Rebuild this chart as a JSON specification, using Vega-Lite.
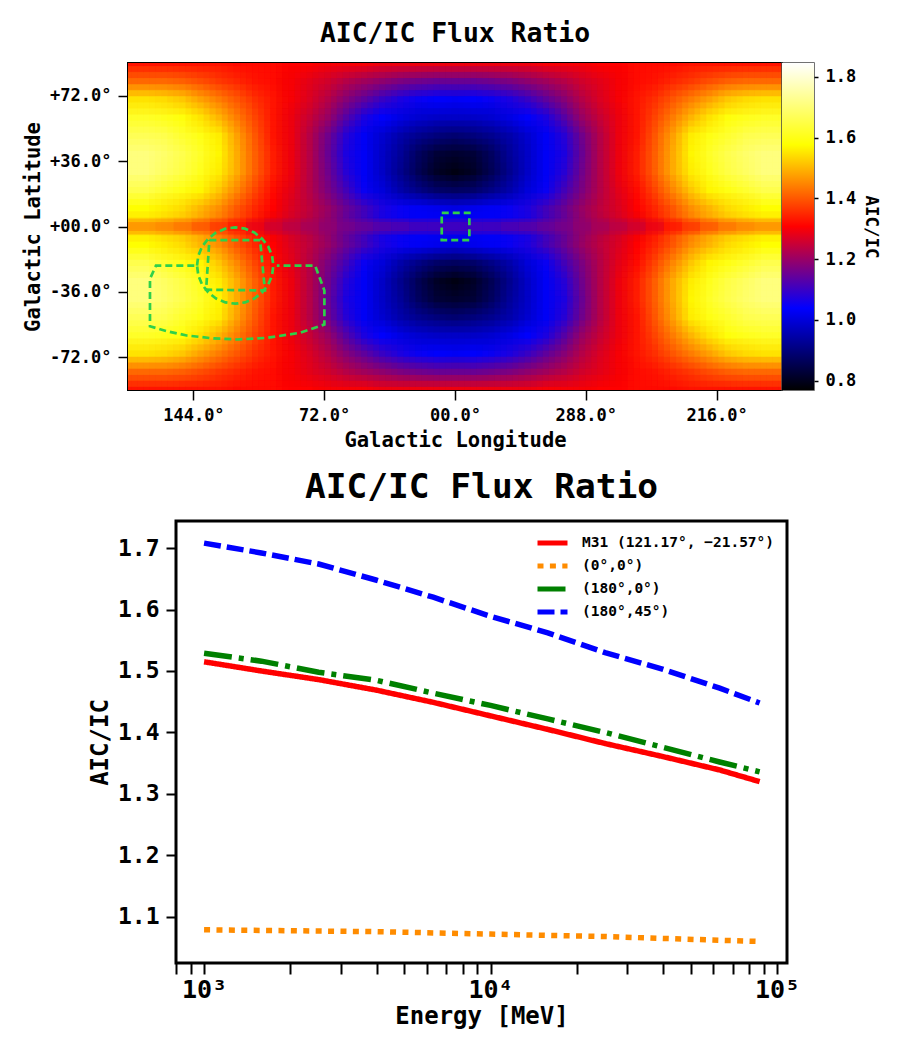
{"$schema":"https://vega.github.io/schema/vega-lite/v6.json","autosize":{"type":"none"},"padding":{"left":128,"top":63,"right":770,"bottom":987},"background":"white","bounds":"flush","spacing":458,"config":{"font":"DejaVu Sans Mono","view":{"stroke":"black","strokeWidth":2},"axis":{"grid":false,"tickColor":"black","domain":false,"labelColor":"black","titleColor":"black","labelFontWeight":"bold","titleFontWeight":"bold","labelFont":"DejaVu Sans Mono","titleFont":"DejaVu Sans Mono"}},
"datasets":{"cells":[
{"l":180,"b":90,"v":1.33},{"l":170,"b":90,"v":1.33},{"l":160,"b":90,"v":1.33},{"l":150,"b":90,"v":1.33},{"l":140,"b":90,"v":1.33},{"l":130,"b":90,"v":1.33},{"l":120,"b":90,"v":1.32},{"l":110,"b":90,"v":1.32},{"l":100,"b":90,"v":1.32},{"l":90,"b":90,"v":1.31},{"l":80,"b":90,"v":1.31},{"l":70,"b":90,"v":1.30},{"l":60,"b":90,"v":1.30},{"l":50,"b":90,"v":1.30},{"l":40,"b":90,"v":1.29},{"l":30,"b":90,"v":1.29},{"l":20,"b":90,"v":1.29},{"l":10,"b":90,"v":1.29},{"l":0,"b":90,"v":1.29},{"l":-10,"b":90,"v":1.29},{"l":-20,"b":90,"v":1.29},{"l":-30,"b":90,"v":1.29},{"l":-40,"b":90,"v":1.29},{"l":-50,"b":90,"v":1.30},{"l":-60,"b":90,"v":1.30},{"l":-70,"b":90,"v":1.30},{"l":-80,"b":90,"v":1.31},{"l":-90,"b":90,"v":1.31},{"l":-100,"b":90,"v":1.32},{"l":-110,"b":90,"v":1.32},{"l":-120,"b":90,"v":1.32},{"l":-130,"b":90,"v":1.33},{"l":-140,"b":90,"v":1.33},{"l":-150,"b":90,"v":1.33},{"l":-160,"b":90,"v":1.33},{"l":-170,"b":90,"v":1.33},{"l":-180,"b":90,"v":1.33},
{"l":180,"b":80,"v":1.42},{"l":170,"b":80,"v":1.42},{"l":160,"b":80,"v":1.42},{"l":150,"b":80,"v":1.41},{"l":140,"b":80,"v":1.39},{"l":130,"b":80,"v":1.37},{"l":120,"b":80,"v":1.35},{"l":110,"b":80,"v":1.33},{"l":100,"b":80,"v":1.32},{"l":90,"b":80,"v":1.30},{"l":80,"b":80,"v":1.28},{"l":70,"b":80,"v":1.26},{"l":60,"b":80,"v":1.23},{"l":50,"b":80,"v":1.21},{"l":40,"b":80,"v":1.19},{"l":30,"b":80,"v":1.17},{"l":20,"b":80,"v":1.16},{"l":10,"b":80,"v":1.15},{"l":0,"b":80,"v":1.15},{"l":-10,"b":80,"v":1.15},{"l":-20,"b":80,"v":1.16},{"l":-30,"b":80,"v":1.17},{"l":-40,"b":80,"v":1.19},{"l":-50,"b":80,"v":1.21},{"l":-60,"b":80,"v":1.23},{"l":-70,"b":80,"v":1.26},{"l":-80,"b":80,"v":1.28},{"l":-90,"b":80,"v":1.30},{"l":-100,"b":80,"v":1.32},{"l":-110,"b":80,"v":1.33},{"l":-120,"b":80,"v":1.35},{"l":-130,"b":80,"v":1.37},{"l":-140,"b":80,"v":1.39},{"l":-150,"b":80,"v":1.41},{"l":-160,"b":80,"v":1.42},{"l":-170,"b":80,"v":1.42},{"l":-180,"b":80,"v":1.42},
{"l":180,"b":70,"v":1.55},{"l":170,"b":70,"v":1.55},{"l":160,"b":70,"v":1.54},{"l":150,"b":70,"v":1.52},{"l":140,"b":70,"v":1.48},{"l":130,"b":70,"v":1.44},{"l":120,"b":70,"v":1.40},{"l":110,"b":70,"v":1.36},{"l":100,"b":70,"v":1.33},{"l":90,"b":70,"v":1.30},{"l":80,"b":70,"v":1.27},{"l":70,"b":70,"v":1.23},{"l":60,"b":70,"v":1.18},{"l":50,"b":70,"v":1.14},{"l":40,"b":70,"v":1.10},{"l":30,"b":70,"v":1.07},{"l":20,"b":70,"v":1.05},{"l":10,"b":70,"v":1.04},{"l":0,"b":70,"v":1.03},{"l":-10,"b":70,"v":1.04},{"l":-20,"b":70,"v":1.05},{"l":-30,"b":70,"v":1.07},{"l":-40,"b":70,"v":1.10},{"l":-50,"b":70,"v":1.14},{"l":-60,"b":70,"v":1.18},{"l":-70,"b":70,"v":1.23},{"l":-80,"b":70,"v":1.27},{"l":-90,"b":70,"v":1.30},{"l":-100,"b":70,"v":1.33},{"l":-110,"b":70,"v":1.36},{"l":-120,"b":70,"v":1.40},{"l":-130,"b":70,"v":1.44},{"l":-140,"b":70,"v":1.48},{"l":-150,"b":70,"v":1.52},{"l":-160,"b":70,"v":1.54},{"l":-170,"b":70,"v":1.55},{"l":-180,"b":70,"v":1.55},
{"l":180,"b":60,"v":1.62},{"l":170,"b":60,"v":1.62},{"l":160,"b":60,"v":1.61},{"l":150,"b":60,"v":1.59},{"l":140,"b":60,"v":1.55},{"l":130,"b":60,"v":1.50},{"l":120,"b":60,"v":1.44},{"l":110,"b":60,"v":1.38},{"l":100,"b":60,"v":1.33},{"l":90,"b":60,"v":1.29},{"l":80,"b":60,"v":1.25},{"l":70,"b":60,"v":1.20},{"l":60,"b":60,"v":1.13},{"l":50,"b":60,"v":1.07},{"l":40,"b":60,"v":1.04},{"l":30,"b":60,"v":1.01},{"l":20,"b":60,"v":0.99},{"l":10,"b":60,"v":0.98},{"l":0,"b":60,"v":0.98},{"l":-10,"b":60,"v":0.98},{"l":-20,"b":60,"v":0.99},{"l":-30,"b":60,"v":1.01},{"l":-40,"b":60,"v":1.04},{"l":-50,"b":60,"v":1.07},{"l":-60,"b":60,"v":1.13},{"l":-70,"b":60,"v":1.20},{"l":-80,"b":60,"v":1.25},{"l":-90,"b":60,"v":1.29},{"l":-100,"b":60,"v":1.33},{"l":-110,"b":60,"v":1.38},{"l":-120,"b":60,"v":1.44},{"l":-130,"b":60,"v":1.50},{"l":-140,"b":60,"v":1.55},{"l":-150,"b":60,"v":1.59},{"l":-160,"b":60,"v":1.61},{"l":-170,"b":60,"v":1.62},{"l":-180,"b":60,"v":1.62},
{"l":180,"b":50,"v":1.67},{"l":170,"b":50,"v":1.67},{"l":160,"b":50,"v":1.66},{"l":150,"b":50,"v":1.63},{"l":140,"b":50,"v":1.60},{"l":130,"b":50,"v":1.56},{"l":120,"b":50,"v":1.48},{"l":110,"b":50,"v":1.40},{"l":100,"b":50,"v":1.33},{"l":90,"b":50,"v":1.29},{"l":80,"b":50,"v":1.23},{"l":70,"b":50,"v":1.16},{"l":60,"b":50,"v":1.08},{"l":50,"b":50,"v":1.03},{"l":40,"b":50,"v":0.99},{"l":30,"b":50,"v":0.95},{"l":20,"b":50,"v":0.92},{"l":10,"b":50,"v":0.90},{"l":0,"b":50,"v":0.89},{"l":-10,"b":50,"v":0.90},{"l":-20,"b":50,"v":0.92},{"l":-30,"b":50,"v":0.95},{"l":-40,"b":50,"v":0.99},{"l":-50,"b":50,"v":1.03},{"l":-60,"b":50,"v":1.08},{"l":-70,"b":50,"v":1.16},{"l":-80,"b":50,"v":1.23},{"l":-90,"b":50,"v":1.29},{"l":-100,"b":50,"v":1.33},{"l":-110,"b":50,"v":1.40},{"l":-120,"b":50,"v":1.48},{"l":-130,"b":50,"v":1.56},{"l":-140,"b":50,"v":1.60},{"l":-150,"b":50,"v":1.63},{"l":-160,"b":50,"v":1.66},{"l":-170,"b":50,"v":1.67},{"l":-180,"b":50,"v":1.67},
{"l":180,"b":40,"v":1.71},{"l":170,"b":40,"v":1.71},{"l":160,"b":40,"v":1.69},{"l":150,"b":40,"v":1.66},{"l":140,"b":40,"v":1.62},{"l":130,"b":40,"v":1.57},{"l":120,"b":40,"v":1.49},{"l":110,"b":40,"v":1.41},{"l":100,"b":40,"v":1.34},{"l":90,"b":40,"v":1.29},{"l":80,"b":40,"v":1.23},{"l":70,"b":40,"v":1.15},{"l":60,"b":40,"v":1.07},{"l":50,"b":40,"v":1.03},{"l":40,"b":40,"v":0.98},{"l":30,"b":40,"v":0.93},{"l":20,"b":40,"v":0.87},{"l":10,"b":40,"v":0.83},{"l":0,"b":40,"v":0.82},{"l":-10,"b":40,"v":0.83},{"l":-20,"b":40,"v":0.87},{"l":-30,"b":40,"v":0.93},{"l":-40,"b":40,"v":0.98},{"l":-50,"b":40,"v":1.03},{"l":-60,"b":40,"v":1.07},{"l":-70,"b":40,"v":1.15},{"l":-80,"b":40,"v":1.23},{"l":-90,"b":40,"v":1.29},{"l":-100,"b":40,"v":1.34},{"l":-110,"b":40,"v":1.41},{"l":-120,"b":40,"v":1.49},{"l":-130,"b":40,"v":1.57},{"l":-140,"b":40,"v":1.62},{"l":-150,"b":40,"v":1.66},{"l":-160,"b":40,"v":1.69},{"l":-170,"b":40,"v":1.71},{"l":-180,"b":40,"v":1.71},
{"l":180,"b":30,"v":1.71},{"l":170,"b":30,"v":1.71},{"l":160,"b":30,"v":1.68},{"l":150,"b":30,"v":1.65},{"l":140,"b":30,"v":1.61},{"l":130,"b":30,"v":1.56},{"l":120,"b":30,"v":1.49},{"l":110,"b":30,"v":1.41},{"l":100,"b":30,"v":1.34},{"l":90,"b":30,"v":1.29},{"l":80,"b":30,"v":1.23},{"l":70,"b":30,"v":1.16},{"l":60,"b":30,"v":1.08},{"l":50,"b":30,"v":1.03},{"l":40,"b":30,"v":0.98},{"l":30,"b":30,"v":0.92},{"l":20,"b":30,"v":0.86},{"l":10,"b":30,"v":0.81},{"l":0,"b":30,"v":0.79},{"l":-10,"b":30,"v":0.81},{"l":-20,"b":30,"v":0.86},{"l":-30,"b":30,"v":0.92},{"l":-40,"b":30,"v":0.98},{"l":-50,"b":30,"v":1.03},{"l":-60,"b":30,"v":1.08},{"l":-70,"b":30,"v":1.16},{"l":-80,"b":30,"v":1.23},{"l":-90,"b":30,"v":1.29},{"l":-100,"b":30,"v":1.34},{"l":-110,"b":30,"v":1.41},{"l":-120,"b":30,"v":1.49},{"l":-130,"b":30,"v":1.56},{"l":-140,"b":30,"v":1.61},{"l":-150,"b":30,"v":1.65},{"l":-160,"b":30,"v":1.68},{"l":-170,"b":30,"v":1.71},{"l":-180,"b":30,"v":1.71},
{"l":180,"b":20,"v":1.66},{"l":170,"b":20,"v":1.66},{"l":160,"b":20,"v":1.63},{"l":150,"b":20,"v":1.60},{"l":140,"b":20,"v":1.57},{"l":130,"b":20,"v":1.52},{"l":120,"b":20,"v":1.45},{"l":110,"b":20,"v":1.38},{"l":100,"b":20,"v":1.32},{"l":90,"b":20,"v":1.28},{"l":80,"b":20,"v":1.23},{"l":70,"b":20,"v":1.17},{"l":60,"b":20,"v":1.11},{"l":50,"b":20,"v":1.05},{"l":40,"b":20,"v":1.00},{"l":30,"b":20,"v":0.95},{"l":20,"b":20,"v":0.91},{"l":10,"b":20,"v":0.88},{"l":0,"b":20,"v":0.87},{"l":-10,"b":20,"v":0.88},{"l":-20,"b":20,"v":0.91},{"l":-30,"b":20,"v":0.95},{"l":-40,"b":20,"v":1.00},{"l":-50,"b":20,"v":1.05},{"l":-60,"b":20,"v":1.11},{"l":-70,"b":20,"v":1.17},{"l":-80,"b":20,"v":1.23},{"l":-90,"b":20,"v":1.28},{"l":-100,"b":20,"v":1.32},{"l":-110,"b":20,"v":1.38},{"l":-120,"b":20,"v":1.45},{"l":-130,"b":20,"v":1.52},{"l":-140,"b":20,"v":1.57},{"l":-150,"b":20,"v":1.60},{"l":-160,"b":20,"v":1.63},{"l":-170,"b":20,"v":1.66},{"l":-180,"b":20,"v":1.66},
{"l":180,"b":10,"v":1.58},{"l":170,"b":10,"v":1.58},{"l":160,"b":10,"v":1.56},{"l":150,"b":10,"v":1.54},{"l":140,"b":10,"v":1.50},{"l":130,"b":10,"v":1.46},{"l":120,"b":10,"v":1.40},{"l":110,"b":10,"v":1.35},{"l":100,"b":10,"v":1.31},{"l":90,"b":10,"v":1.27},{"l":80,"b":10,"v":1.24},{"l":70,"b":10,"v":1.20},{"l":60,"b":10,"v":1.15},{"l":50,"b":10,"v":1.11},{"l":40,"b":10,"v":1.07},{"l":30,"b":10,"v":1.05},{"l":20,"b":10,"v":1.03},{"l":10,"b":10,"v":1.02},{"l":0,"b":10,"v":1.01},{"l":-10,"b":10,"v":1.02},{"l":-20,"b":10,"v":1.03},{"l":-30,"b":10,"v":1.05},{"l":-40,"b":10,"v":1.07},{"l":-50,"b":10,"v":1.11},{"l":-60,"b":10,"v":1.15},{"l":-70,"b":10,"v":1.20},{"l":-80,"b":10,"v":1.24},{"l":-90,"b":10,"v":1.27},{"l":-100,"b":10,"v":1.31},{"l":-110,"b":10,"v":1.35},{"l":-120,"b":10,"v":1.40},{"l":-130,"b":10,"v":1.46},{"l":-140,"b":10,"v":1.50},{"l":-150,"b":10,"v":1.54},{"l":-160,"b":10,"v":1.56},{"l":-170,"b":10,"v":1.58},{"l":-180,"b":10,"v":1.58},
{"l":180,"b":0,"v":1.54},{"l":170,"b":0,"v":1.54},{"l":160,"b":0,"v":1.52},{"l":150,"b":0,"v":1.50},{"l":140,"b":0,"v":1.47},{"l":130,"b":0,"v":1.43},{"l":120,"b":0,"v":1.38},{"l":110,"b":0,"v":1.33},{"l":100,"b":0,"v":1.29},{"l":90,"b":0,"v":1.26},{"l":80,"b":0,"v":1.23},{"l":70,"b":0,"v":1.19},{"l":60,"b":0,"v":1.14},{"l":50,"b":0,"v":1.10},{"l":40,"b":0,"v":1.06},{"l":30,"b":0,"v":1.05},{"l":20,"b":0,"v":1.04},{"l":10,"b":0,"v":1.04},{"l":0,"b":0,"v":1.04},{"l":-10,"b":0,"v":1.04},{"l":-20,"b":0,"v":1.04},{"l":-30,"b":0,"v":1.05},{"l":-40,"b":0,"v":1.06},{"l":-50,"b":0,"v":1.10},{"l":-60,"b":0,"v":1.14},{"l":-70,"b":0,"v":1.19},{"l":-80,"b":0,"v":1.23},{"l":-90,"b":0,"v":1.26},{"l":-100,"b":0,"v":1.29},{"l":-110,"b":0,"v":1.33},{"l":-120,"b":0,"v":1.38},{"l":-130,"b":0,"v":1.43},{"l":-140,"b":0,"v":1.47},{"l":-150,"b":0,"v":1.50},{"l":-160,"b":0,"v":1.52},{"l":-170,"b":0,"v":1.54},{"l":-180,"b":0,"v":1.54},
{"l":180,"b":-10,"v":1.58},{"l":170,"b":-10,"v":1.58},{"l":160,"b":-10,"v":1.56},{"l":150,"b":-10,"v":1.54},{"l":140,"b":-10,"v":1.50},{"l":130,"b":-10,"v":1.46},{"l":120,"b":-10,"v":1.40},{"l":110,"b":-10,"v":1.35},{"l":100,"b":-10,"v":1.31},{"l":90,"b":-10,"v":1.27},{"l":80,"b":-10,"v":1.24},{"l":70,"b":-10,"v":1.20},{"l":60,"b":-10,"v":1.15},{"l":50,"b":-10,"v":1.11},{"l":40,"b":-10,"v":1.07},{"l":30,"b":-10,"v":1.05},{"l":20,"b":-10,"v":1.03},{"l":10,"b":-10,"v":1.02},{"l":0,"b":-10,"v":1.01},{"l":-10,"b":-10,"v":1.02},{"l":-20,"b":-10,"v":1.03},{"l":-30,"b":-10,"v":1.05},{"l":-40,"b":-10,"v":1.07},{"l":-50,"b":-10,"v":1.11},{"l":-60,"b":-10,"v":1.15},{"l":-70,"b":-10,"v":1.20},{"l":-80,"b":-10,"v":1.24},{"l":-90,"b":-10,"v":1.27},{"l":-100,"b":-10,"v":1.31},{"l":-110,"b":-10,"v":1.35},{"l":-120,"b":-10,"v":1.40},{"l":-130,"b":-10,"v":1.46},{"l":-140,"b":-10,"v":1.50},{"l":-150,"b":-10,"v":1.54},{"l":-160,"b":-10,"v":1.56},{"l":-170,"b":-10,"v":1.58},{"l":-180,"b":-10,"v":1.58},
{"l":180,"b":-20,"v":1.66},{"l":170,"b":-20,"v":1.66},{"l":160,"b":-20,"v":1.63},{"l":150,"b":-20,"v":1.60},{"l":140,"b":-20,"v":1.57},{"l":130,"b":-20,"v":1.52},{"l":120,"b":-20,"v":1.45},{"l":110,"b":-20,"v":1.38},{"l":100,"b":-20,"v":1.32},{"l":90,"b":-20,"v":1.28},{"l":80,"b":-20,"v":1.23},{"l":70,"b":-20,"v":1.17},{"l":60,"b":-20,"v":1.11},{"l":50,"b":-20,"v":1.05},{"l":40,"b":-20,"v":1.00},{"l":30,"b":-20,"v":0.95},{"l":20,"b":-20,"v":0.91},{"l":10,"b":-20,"v":0.88},{"l":0,"b":-20,"v":0.87},{"l":-10,"b":-20,"v":0.88},{"l":-20,"b":-20,"v":0.91},{"l":-30,"b":-20,"v":0.95},{"l":-40,"b":-20,"v":1.00},{"l":-50,"b":-20,"v":1.05},{"l":-60,"b":-20,"v":1.11},{"l":-70,"b":-20,"v":1.17},{"l":-80,"b":-20,"v":1.23},{"l":-90,"b":-20,"v":1.28},{"l":-100,"b":-20,"v":1.32},{"l":-110,"b":-20,"v":1.38},{"l":-120,"b":-20,"v":1.45},{"l":-130,"b":-20,"v":1.52},{"l":-140,"b":-20,"v":1.57},{"l":-150,"b":-20,"v":1.60},{"l":-160,"b":-20,"v":1.63},{"l":-170,"b":-20,"v":1.66},{"l":-180,"b":-20,"v":1.66},
{"l":180,"b":-30,"v":1.71},{"l":170,"b":-30,"v":1.71},{"l":160,"b":-30,"v":1.68},{"l":150,"b":-30,"v":1.65},{"l":140,"b":-30,"v":1.61},{"l":130,"b":-30,"v":1.56},{"l":120,"b":-30,"v":1.49},{"l":110,"b":-30,"v":1.41},{"l":100,"b":-30,"v":1.34},{"l":90,"b":-30,"v":1.29},{"l":80,"b":-30,"v":1.23},{"l":70,"b":-30,"v":1.16},{"l":60,"b":-30,"v":1.08},{"l":50,"b":-30,"v":1.03},{"l":40,"b":-30,"v":0.98},{"l":30,"b":-30,"v":0.92},{"l":20,"b":-30,"v":0.86},{"l":10,"b":-30,"v":0.81},{"l":0,"b":-30,"v":0.79},{"l":-10,"b":-30,"v":0.81},{"l":-20,"b":-30,"v":0.86},{"l":-30,"b":-30,"v":0.92},{"l":-40,"b":-30,"v":0.98},{"l":-50,"b":-30,"v":1.03},{"l":-60,"b":-30,"v":1.08},{"l":-70,"b":-30,"v":1.16},{"l":-80,"b":-30,"v":1.23},{"l":-90,"b":-30,"v":1.29},{"l":-100,"b":-30,"v":1.34},{"l":-110,"b":-30,"v":1.41},{"l":-120,"b":-30,"v":1.49},{"l":-130,"b":-30,"v":1.56},{"l":-140,"b":-30,"v":1.61},{"l":-150,"b":-30,"v":1.65},{"l":-160,"b":-30,"v":1.68},{"l":-170,"b":-30,"v":1.71},{"l":-180,"b":-30,"v":1.71},
{"l":180,"b":-40,"v":1.71},{"l":170,"b":-40,"v":1.71},{"l":160,"b":-40,"v":1.69},{"l":150,"b":-40,"v":1.66},{"l":140,"b":-40,"v":1.62},{"l":130,"b":-40,"v":1.57},{"l":120,"b":-40,"v":1.49},{"l":110,"b":-40,"v":1.41},{"l":100,"b":-40,"v":1.34},{"l":90,"b":-40,"v":1.29},{"l":80,"b":-40,"v":1.23},{"l":70,"b":-40,"v":1.15},{"l":60,"b":-40,"v":1.07},{"l":50,"b":-40,"v":1.03},{"l":40,"b":-40,"v":0.98},{"l":30,"b":-40,"v":0.93},{"l":20,"b":-40,"v":0.87},{"l":10,"b":-40,"v":0.83},{"l":0,"b":-40,"v":0.82},{"l":-10,"b":-40,"v":0.83},{"l":-20,"b":-40,"v":0.87},{"l":-30,"b":-40,"v":0.93},{"l":-40,"b":-40,"v":0.98},{"l":-50,"b":-40,"v":1.03},{"l":-60,"b":-40,"v":1.07},{"l":-70,"b":-40,"v":1.15},{"l":-80,"b":-40,"v":1.23},{"l":-90,"b":-40,"v":1.29},{"l":-100,"b":-40,"v":1.34},{"l":-110,"b":-40,"v":1.41},{"l":-120,"b":-40,"v":1.49},{"l":-130,"b":-40,"v":1.57},{"l":-140,"b":-40,"v":1.62},{"l":-150,"b":-40,"v":1.66},{"l":-160,"b":-40,"v":1.69},{"l":-170,"b":-40,"v":1.71},{"l":-180,"b":-40,"v":1.71},
{"l":180,"b":-50,"v":1.67},{"l":170,"b":-50,"v":1.67},{"l":160,"b":-50,"v":1.66},{"l":150,"b":-50,"v":1.63},{"l":140,"b":-50,"v":1.60},{"l":130,"b":-50,"v":1.56},{"l":120,"b":-50,"v":1.48},{"l":110,"b":-50,"v":1.40},{"l":100,"b":-50,"v":1.33},{"l":90,"b":-50,"v":1.29},{"l":80,"b":-50,"v":1.23},{"l":70,"b":-50,"v":1.16},{"l":60,"b":-50,"v":1.08},{"l":50,"b":-50,"v":1.03},{"l":40,"b":-50,"v":0.99},{"l":30,"b":-50,"v":0.95},{"l":20,"b":-50,"v":0.92},{"l":10,"b":-50,"v":0.90},{"l":0,"b":-50,"v":0.89},{"l":-10,"b":-50,"v":0.90},{"l":-20,"b":-50,"v":0.92},{"l":-30,"b":-50,"v":0.95},{"l":-40,"b":-50,"v":0.99},{"l":-50,"b":-50,"v":1.03},{"l":-60,"b":-50,"v":1.08},{"l":-70,"b":-50,"v":1.16},{"l":-80,"b":-50,"v":1.23},{"l":-90,"b":-50,"v":1.29},{"l":-100,"b":-50,"v":1.33},{"l":-110,"b":-50,"v":1.40},{"l":-120,"b":-50,"v":1.48},{"l":-130,"b":-50,"v":1.56},{"l":-140,"b":-50,"v":1.60},{"l":-150,"b":-50,"v":1.63},{"l":-160,"b":-50,"v":1.66},{"l":-170,"b":-50,"v":1.67},{"l":-180,"b":-50,"v":1.67},
{"l":180,"b":-60,"v":1.62},{"l":170,"b":-60,"v":1.62},{"l":160,"b":-60,"v":1.61},{"l":150,"b":-60,"v":1.59},{"l":140,"b":-60,"v":1.55},{"l":130,"b":-60,"v":1.50},{"l":120,"b":-60,"v":1.44},{"l":110,"b":-60,"v":1.38},{"l":100,"b":-60,"v":1.33},{"l":90,"b":-60,"v":1.29},{"l":80,"b":-60,"v":1.25},{"l":70,"b":-60,"v":1.20},{"l":60,"b":-60,"v":1.13},{"l":50,"b":-60,"v":1.07},{"l":40,"b":-60,"v":1.04},{"l":30,"b":-60,"v":1.01},{"l":20,"b":-60,"v":0.99},{"l":10,"b":-60,"v":0.98},{"l":0,"b":-60,"v":0.98},{"l":-10,"b":-60,"v":0.98},{"l":-20,"b":-60,"v":0.99},{"l":-30,"b":-60,"v":1.01},{"l":-40,"b":-60,"v":1.04},{"l":-50,"b":-60,"v":1.07},{"l":-60,"b":-60,"v":1.13},{"l":-70,"b":-60,"v":1.20},{"l":-80,"b":-60,"v":1.25},{"l":-90,"b":-60,"v":1.29},{"l":-100,"b":-60,"v":1.33},{"l":-110,"b":-60,"v":1.38},{"l":-120,"b":-60,"v":1.44},{"l":-130,"b":-60,"v":1.50},{"l":-140,"b":-60,"v":1.55},{"l":-150,"b":-60,"v":1.59},{"l":-160,"b":-60,"v":1.61},{"l":-170,"b":-60,"v":1.62},{"l":-180,"b":-60,"v":1.62},
{"l":180,"b":-70,"v":1.55},{"l":170,"b":-70,"v":1.55},{"l":160,"b":-70,"v":1.54},{"l":150,"b":-70,"v":1.52},{"l":140,"b":-70,"v":1.48},{"l":130,"b":-70,"v":1.44},{"l":120,"b":-70,"v":1.40},{"l":110,"b":-70,"v":1.36},{"l":100,"b":-70,"v":1.33},{"l":90,"b":-70,"v":1.30},{"l":80,"b":-70,"v":1.27},{"l":70,"b":-70,"v":1.23},{"l":60,"b":-70,"v":1.18},{"l":50,"b":-70,"v":1.14},{"l":40,"b":-70,"v":1.10},{"l":30,"b":-70,"v":1.07},{"l":20,"b":-70,"v":1.05},{"l":10,"b":-70,"v":1.04},{"l":0,"b":-70,"v":1.03},{"l":-10,"b":-70,"v":1.04},{"l":-20,"b":-70,"v":1.05},{"l":-30,"b":-70,"v":1.07},{"l":-40,"b":-70,"v":1.10},{"l":-50,"b":-70,"v":1.14},{"l":-60,"b":-70,"v":1.18},{"l":-70,"b":-70,"v":1.23},{"l":-80,"b":-70,"v":1.27},{"l":-90,"b":-70,"v":1.30},{"l":-100,"b":-70,"v":1.33},{"l":-110,"b":-70,"v":1.36},{"l":-120,"b":-70,"v":1.40},{"l":-130,"b":-70,"v":1.44},{"l":-140,"b":-70,"v":1.48},{"l":-150,"b":-70,"v":1.52},{"l":-160,"b":-70,"v":1.54},{"l":-170,"b":-70,"v":1.55},{"l":-180,"b":-70,"v":1.55},
{"l":180,"b":-80,"v":1.42},{"l":170,"b":-80,"v":1.42},{"l":160,"b":-80,"v":1.42},{"l":150,"b":-80,"v":1.41},{"l":140,"b":-80,"v":1.39},{"l":130,"b":-80,"v":1.37},{"l":120,"b":-80,"v":1.35},{"l":110,"b":-80,"v":1.33},{"l":100,"b":-80,"v":1.32},{"l":90,"b":-80,"v":1.30},{"l":80,"b":-80,"v":1.28},{"l":70,"b":-80,"v":1.26},{"l":60,"b":-80,"v":1.23},{"l":50,"b":-80,"v":1.21},{"l":40,"b":-80,"v":1.19},{"l":30,"b":-80,"v":1.17},{"l":20,"b":-80,"v":1.16},{"l":10,"b":-80,"v":1.15},{"l":0,"b":-80,"v":1.15},{"l":-10,"b":-80,"v":1.15},{"l":-20,"b":-80,"v":1.16},{"l":-30,"b":-80,"v":1.17},{"l":-40,"b":-80,"v":1.19},{"l":-50,"b":-80,"v":1.21},{"l":-60,"b":-80,"v":1.23},{"l":-70,"b":-80,"v":1.26},{"l":-80,"b":-80,"v":1.28},{"l":-90,"b":-80,"v":1.30},{"l":-100,"b":-80,"v":1.32},{"l":-110,"b":-80,"v":1.33},{"l":-120,"b":-80,"v":1.35},{"l":-130,"b":-80,"v":1.37},{"l":-140,"b":-80,"v":1.39},{"l":-150,"b":-80,"v":1.41},{"l":-160,"b":-80,"v":1.42},{"l":-170,"b":-80,"v":1.42},{"l":-180,"b":-80,"v":1.42},
{"l":180,"b":-90,"v":1.33},{"l":170,"b":-90,"v":1.33},{"l":160,"b":-90,"v":1.33},{"l":150,"b":-90,"v":1.33},{"l":140,"b":-90,"v":1.33},{"l":130,"b":-90,"v":1.33},{"l":120,"b":-90,"v":1.32},{"l":110,"b":-90,"v":1.32},{"l":100,"b":-90,"v":1.32},{"l":90,"b":-90,"v":1.31},{"l":80,"b":-90,"v":1.31},{"l":70,"b":-90,"v":1.30},{"l":60,"b":-90,"v":1.30},{"l":50,"b":-90,"v":1.30},{"l":40,"b":-90,"v":1.29},{"l":30,"b":-90,"v":1.29},{"l":20,"b":-90,"v":1.29},{"l":10,"b":-90,"v":1.29},{"l":0,"b":-90,"v":1.29},{"l":-10,"b":-90,"v":1.29},{"l":-20,"b":-90,"v":1.29},{"l":-30,"b":-90,"v":1.29},{"l":-40,"b":-90,"v":1.29},{"l":-50,"b":-90,"v":1.30},{"l":-60,"b":-90,"v":1.30},{"l":-70,"b":-90,"v":1.30},{"l":-80,"b":-90,"v":1.31},{"l":-90,"b":-90,"v":1.31},{"l":-100,"b":-90,"v":1.32},{"l":-110,"b":-90,"v":1.32},{"l":-120,"b":-90,"v":1.32},{"l":-130,"b":-90,"v":1.33},{"l":-140,"b":-90,"v":1.33},{"l":-150,"b":-90,"v":1.33},{"l":-160,"b":-90,"v":1.33},{"l":-170,"b":-90,"v":1.33},{"l":-180,"b":-90,"v":1.33}],
"plane":[{"l":180,"b":0,"v":1.44},{"l":170,"b":0,"v":1.44},{"l":160,"b":0,"v":1.43},{"l":150,"b":0,"v":1.41},{"l":140,"b":0,"v":1.38},{"l":130,"b":0,"v":1.35},{"l":120,"b":0,"v":1.32},{"l":110,"b":0,"v":1.28},{"l":100,"b":0,"v":1.25},{"l":90,"b":0,"v":1.23},{"l":80,"b":0,"v":1.21},{"l":70,"b":0,"v":1.19},{"l":60,"b":0,"v":1.17},{"l":50,"b":0,"v":1.16},{"l":40,"b":0,"v":1.15},{"l":30,"b":0,"v":1.14},{"l":20,"b":0,"v":1.13},{"l":10,"b":0,"v":1.13},{"l":0,"b":0,"v":1.13},{"l":-10,"b":0,"v":1.13},{"l":-20,"b":0,"v":1.13},{"l":-30,"b":0,"v":1.14},{"l":-40,"b":0,"v":1.15},{"l":-50,"b":0,"v":1.16},{"l":-60,"b":0,"v":1.17},{"l":-70,"b":0,"v":1.19},{"l":-80,"b":0,"v":1.21},{"l":-90,"b":0,"v":1.23},{"l":-100,"b":0,"v":1.25},{"l":-110,"b":0,"v":1.28},{"l":-120,"b":0,"v":1.32},{"l":-130,"b":0,"v":1.35},{"l":-140,"b":0,"v":1.38},{"l":-150,"b":0,"v":1.41},{"l":-160,"b":0,"v":1.43},{"l":-170,"b":0,"v":1.44},{"l":-180,"b":0,"v":1.44}],
"regions":[{"s":"box","i":0,"l":7.3,"b":7.5},{"s":"box","i":1,"l":-7.9,"b":7.5},{"s":"box","i":2,"l":-7.9,"b":-7.5},{"s":"box","i":3,"l":7.3,"b":-7.5},{"s":"box","i":4,"l":7.3,"b":7.5},
{"s":"quad","i":0,"l":135.2,"b":-7.5},{"s":"quad","i":1,"l":107.3,"b":-7.5},{"s":"quad","i":2,"l":104.6,"b":-35.2},{"s":"quad","i":3,"l":137,"b":-34.8},{"s":"quad","i":4,"l":135.2,"b":-7.5},
{"s":"outer","i":0,"l":143.5,"b":-21.5},{"s":"outer","i":1,"l":164.6,"b":-21.5},{"s":"outer","i":2,"l":167.9,"b":-28.8},{"s":"outer","i":3,"l":167.9,"b":-54.9},{"s":"outer","i":4,"l":158.7,"b":-57.6},{"s":"outer","i":5,"l":147.7,"b":-60},{"s":"outer","i":6,"l":133,"b":-61.6},{"s":"outer","i":7,"l":119.8,"b":-62.2},{"s":"outer","i":8,"l":103.6,"b":-61.3},{"s":"outer","i":9,"l":85.3,"b":-58.5},{"s":"outer","i":10,"l":71.9,"b":-53.9},{"s":"outer","i":11,"l":71.9,"b":-35.2},{"s":"outer","i":12,"l":77,"b":-21.5},{"s":"outer","i":13,"l":98.1,"b":-21.5},
{"s":"circle","i":0,"l":142,"b":-21.5},{"s":"circle","i":1,"l":141.3,"b":-16.1},{"s":"circle","i":2,"l":139.2,"b":-11},{"s":"circle","i":3,"l":135.8,"b":-6.7},{"s":"circle","i":4,"l":131.5,"b":-3.3},{"s":"circle","i":5,"l":126.4,"b":-1.2},{"s":"circle","i":6,"l":121,"b":-0.5},{"s":"circle","i":7,"l":115.6,"b":-1.2},{"s":"circle","i":8,"l":110.5,"b":-3.3},{"s":"circle","i":9,"l":106.2,"b":-6.7},{"s":"circle","i":10,"l":102.8,"b":-11},{"s":"circle","i":11,"l":100.7,"b":-16.1},{"s":"circle","i":12,"l":100,"b":-21.5},{"s":"circle","i":13,"l":100.7,"b":-26.9},{"s":"circle","i":14,"l":102.8,"b":-32},{"s":"circle","i":15,"l":106.2,"b":-36.3},{"s":"circle","i":16,"l":110.5,"b":-39.7},{"s":"circle","i":17,"l":115.6,"b":-41.8},{"s":"circle","i":18,"l":121,"b":-42.5},{"s":"circle","i":19,"l":126.4,"b":-41.8},{"s":"circle","i":20,"l":131.5,"b":-39.7},{"s":"circle","i":21,"l":135.8,"b":-36.3},{"s":"circle","i":22,"l":139.2,"b":-32},{"s":"circle","i":23,"l":141.3,"b":-26.9},{"s":"circle","i":24,"l":142,"b":-21.5}],
"lines":[
{"e":1000,"r":1.515,"n":"M31 (121.17°, −21.57°)"},{"e":1585,"r":1.500,"n":"M31 (121.17°, −21.57°)"},{"e":2512,"r":1.486,"n":"M31 (121.17°, −21.57°)"},{"e":3981,"r":1.469,"n":"M31 (121.17°, −21.57°)"},{"e":6310,"r":1.449,"n":"M31 (121.17°, −21.57°)"},{"e":10000,"r":1.427,"n":"M31 (121.17°, −21.57°)"},{"e":15849,"r":1.405,"n":"M31 (121.17°, −21.57°)"},{"e":25119,"r":1.382,"n":"M31 (121.17°, −21.57°)"},{"e":39811,"r":1.361,"n":"M31 (121.17°, −21.57°)"},{"e":63096,"r":1.339,"n":"M31 (121.17°, −21.57°)"},{"e":87000,"r":1.320,"n":"M31 (121.17°, −21.57°)"},
{"e":1000,"r":1.079,"n":"(0°,0°)"},{"e":1585,"r":1.078,"n":"(0°,0°)"},{"e":2512,"r":1.077,"n":"(0°,0°)"},{"e":3981,"r":1.076,"n":"(0°,0°)"},{"e":6310,"r":1.074,"n":"(0°,0°)"},{"e":10000,"r":1.072,"n":"(0°,0°)"},{"e":15849,"r":1.070,"n":"(0°,0°)"},{"e":25119,"r":1.068,"n":"(0°,0°)"},{"e":39811,"r":1.065,"n":"(0°,0°)"},{"e":63096,"r":1.062,"n":"(0°,0°)"},{"e":87000,"r":1.060,"n":"(0°,0°)"},
{"e":1000,"r":1.529,"n":"(180°,0°)"},{"e":1585,"r":1.516,"n":"(180°,0°)"},{"e":2512,"r":1.498,"n":"(180°,0°)"},{"e":3981,"r":1.485,"n":"(180°,0°)"},{"e":6310,"r":1.464,"n":"(180°,0°)"},{"e":10000,"r":1.444,"n":"(180°,0°)"},{"e":15849,"r":1.422,"n":"(180°,0°)"},{"e":25119,"r":1.400,"n":"(180°,0°)"},{"e":39811,"r":1.376,"n":"(180°,0°)"},{"e":63096,"r":1.352,"n":"(180°,0°)"},{"e":87000,"r":1.336,"n":"(180°,0°)"},
{"e":1000,"r":1.708,"n":"(180°,45°)"},{"e":1585,"r":1.692,"n":"(180°,45°)"},{"e":2512,"r":1.674,"n":"(180°,45°)"},{"e":3981,"r":1.648,"n":"(180°,45°)"},{"e":6310,"r":1.620,"n":"(180°,45°)"},{"e":10000,"r":1.589,"n":"(180°,45°)"},{"e":15849,"r":1.562,"n":"(180°,45°)"},{"e":25119,"r":1.530,"n":"(180°,45°)"},{"e":39811,"r":1.503,"n":"(180°,45°)"},{"e":63096,"r":1.472,"n":"(180°,45°)"},{"e":87000,"r":1.448,"n":"(180°,45°)"}]},
"vconcat":[{"hconcat":[{"width":654,"height":327,"title":{"text":"AIC/IC Flux Ratio","fontSize":26.4,"fontWeight":"bold","font":"DejaVu Sans Mono","offset":16,"color":"black"},"data":{"name":"cells"},"encoding":{"x":{"field":"l","type":"quantitative","scale":{"domain":[180,-180],"nice":false,"zero":false},"axis":{"values":[144,72,0,-72,-144],"labelExpr":"datum.value==144?'144.0°':datum.value==72?'72.0°':datum.value==0?'00.0°':datum.value==-72?'288.0°':'216.0°'","title":"Galactic Longitude","labelFontSize":17,"titleFontSize":20.5,"tickSize":10,"tickWidth":1.5,"labelPadding":7,"titlePadding":7}},"y":{"field":"b","type":"quantitative","scale":{"domain":[-90,90],"nice":false,"zero":false},"axis":{"values":[72,36,0,-36,-72],"labelExpr":"datum.value==72?'+72.0°':datum.value==36?'+36.0°':datum.value==0?'+00.0°':datum.value==-36?'-36.0°':'-72.0°'","title":"Galactic Latitude","labelFontSize":17,"titleFontSize":20.5,"tickSize":10,"tickWidth":1.5,"labelPadding":7,"titlePadding":6}}},"layer":[{"mark":{"type":"rect","width":19,"height":19,"clip":true},"encoding":{"fill":{"field":"v","type":"quantitative","legend":null,"scale":{"domain":[0.769,1.038,1.3075,1.577,1.846],"range":["#000000","#0000ff","#ff0000","#ffff00","#ffffff"],"interpolate":"rgb"}}}},{"mark":{"type":"rect","width":18.17,"height":18.17,"clip":true,"xOffset":-6,"yOffset":-6,"opacity":0.5},"encoding":{"fill":{"field":"v","type":"quantitative","legend":null}}},{"mark":{"type":"rect","width":18.17,"height":18.17,"clip":true,"xOffset":6,"yOffset":-6,"opacity":0.333},"encoding":{"fill":{"field":"v","type":"quantitative","legend":null}}},{"mark":{"type":"rect","width":18.17,"height":18.17,"clip":true,"xOffset":-6,"yOffset":6,"opacity":0.25},"encoding":{"fill":{"field":"v","type":"quantitative","legend":null}}},{"mark":{"type":"rect","width":18.17,"height":18.17,"clip":true,"xOffset":6,"yOffset":6,"opacity":0.2},"encoding":{"fill":{"field":"v","type":"quantitative","legend":null}}},{"mark":{"type":"rect","width":18.17,"height":18.17,"clip":true,"xOffset":0,"yOffset":-6,"opacity":0.167},"encoding":{"fill":{"field":"v","type":"quantitative","legend":null}}},{"mark":{"type":"rect","width":18.17,"height":18.17,"clip":true,"xOffset":0,"yOffset":6,"opacity":0.143},"encoding":{"fill":{"field":"v","type":"quantitative","legend":null}}},{"mark":{"type":"rect","width":18.17,"height":18.17,"clip":true,"xOffset":-6,"yOffset":0,"opacity":0.125},"encoding":{"fill":{"field":"v","type":"quantitative","legend":null}}},{"mark":{"type":"rect","width":18.17,"height":18.17,"clip":true,"xOffset":6,"yOffset":0,"opacity":0.111},"encoding":{"fill":{"field":"v","type":"quantitative","legend":null}}},{"data":{"name":"plane"},"mark":{"type":"rect","width":18.17,"height":16,"clip":true,"opacity":0.4},"encoding":{"fill":{"field":"v","type":"quantitative","legend":null}}},{"data":{"name":"plane"},"mark":{"type":"rect","width":18.17,"height":9,"clip":true,"opacity":0.5},"encoding":{"fill":{"field":"v","type":"quantitative","legend":null}}},{"data":{"name":"regions"},"mark":{"type":"line","stroke":"#2fd04a","strokeWidth":2.7,"strokeDash":[7,4],"clip":true},"encoding":{"detail":{"field":"s"},"order":{"field":"i"}}}]},
{"width":32,"height":327,"view":{"stroke":"#444444","strokeWidth":1.5},"data":{"values":[{"lo":0.769,"hi":1.846}]},"mark":{"type":"rect","fill":{"gradient":"linear","x1":0,"y1":1,"x2":0,"y2":0,"stops":[{"offset":0,"color":"#000000"},{"offset":0.25,"color":"#0000ff"},{"offset":0.5,"color":"#ff0000"},{"offset":0.75,"color":"#ffff00"},{"offset":1,"color":"#ffffff"}]}},"encoding":{"y":{"field":"lo","type":"quantitative","scale":{"domain":[0.769,1.846],"nice":false,"zero":false},"axis":{"orient":"right","values":[0.8,1,1.2,1.4,1.6,1.8],"format":".1f","title":"AIC/IC","labelFontSize":17,"titleFontSize":17.5,"tickSize":4,"tickWidth":1.5,"labelPadding":7,"titlePadding":6}},"y2":{"field":"hi"}}}],"spacing":0,"bounds":"flush"},
{"hconcat":[{"width":1,"height":1,"view":{"stroke":null},"data":{"values":[]},"mark":"text","encoding":{}},{"width":611,"height":442,"view":{"stroke":"black","strokeWidth":3},"title":{"text":"AIC/IC Flux Ratio","fontSize":34.5,"fontWeight":"bold","font":"DejaVu Sans Mono","offset":16,"color":"black"},"data":{"name":"lines"},"mark":{"type":"line","strokeWidth":5.5},"encoding":{"x":{"field":"e","type":"quantitative","scale":{"type":"log","domain":[798,108400],"nice":false},"axis":{"values":[800,900,1000,2000,3000,4000,5000,6000,7000,8000,9000,10000,20000,30000,40000,50000,60000,70000,80000,90000,100000],"labelExpr":"datum.value==1000?'10³':datum.value==10000?'10⁴':datum.value==100000?'10⁵':''","labelOverlap":false,"labelFlush":false,"title":"Energy [MeV]","labelFontSize":25,"titleFontSize":24,"tickSize":11,"tickWidth":2,"labelPadding":3,"titlePadding":2}},"y":{"field":"r","type":"quantitative","scale":{"domain":[1.025,1.744],"nice":false,"zero":false},"axis":{"values":[1.1,1.2,1.3,1.4,1.5,1.6,1.7],"format":".1f","title":"AIC/IC","labelFontSize":23,"titleFontSize":24,"tickSize":10,"tickWidth":2,"labelPadding":7,"titlePadding":5}},"color":{"field":"n","type":"nominal","scale":{"domain":["M31 (121.17°, −21.57°)","(0°,0°)","(180°,0°)","(180°,45°)"],"range":["#ff0000","#ff8c00","#008000","#0000ff"]},"legend":{"title":null,"orient":"none","legendX":407,"legendY":474,"symbolType":"stroke","symbolSize":900,"symbolStrokeWidth":5,"clipHeight":12,"rowPadding":8,"labelFont":"DejaVu Sans Mono","labelFontSize":14.5,"labelFontWeight":"bold","labelColor":"black","labelOffset":12,"labelLimit":300}},"strokeDash":{"field":"n","type":"nominal","scale":{"domain":["M31 (121.17°, −21.57°)","(0°,0°)","(180°,0°)","(180°,45°)"],"range":[[1,0],[6,6.4],[28,7,5,7],[17,6]]},"legend":null}}}],"spacing":47,"bounds":"flush"}]}
